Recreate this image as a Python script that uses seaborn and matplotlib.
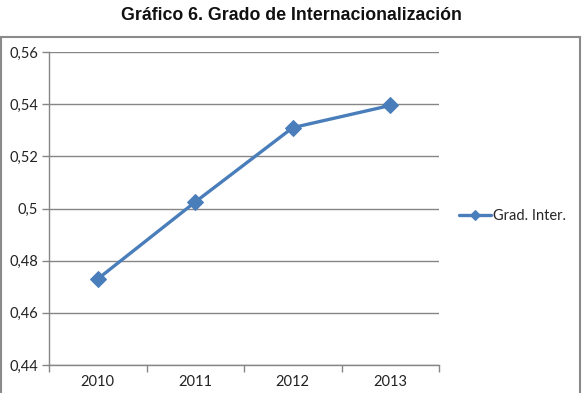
import matplotlib
matplotlib.use("Agg")
import matplotlib.pyplot as plt
import seaborn as sns
import pandas as pd
from matplotlib.patches import Rectangle
from matplotlib.ticker import FixedLocator

years = ["2010", "2011", "2012", "2013"]
values = [0.473, 0.5025, 0.531, 0.5395]
series_name = "Grad. Inter."
yticks = [0.44, 0.46, 0.48, 0.50, 0.52, 0.54, 0.56]
ytick_labels = ["0,44", "0,46", "0,48", "0,5", "0,52", "0,54", "0,56"]
title = "Gráfico 6. Grado de Internacionalización"

df = pd.DataFrame({"Año": years, "Valor": values, "Serie": series_name})

sns.set_theme(style="white")
plt.rcParams["font.family"] = ["Lato", "DejaVu Sans"]

fig = plt.figure(figsize=(5.82, 3.93), dpi=100)
ax = fig.add_axes([49 / 582, 1 - 365 / 393, 390 / 582, 313 / 393])

blue = "#4A7EBB"
sns.lineplot(data=df, x="Año", y="Valor", hue="Serie", palette=[blue],
             marker="D", markersize=8.5, linewidth=2.4, markeredgecolor=blue,
             ax=ax, sort=False)

ax.set_xlim(-0.5, 3.5)
ax.set_ylim(0.44, 0.56)
ax.set_yticks(yticks)
ax.set_yticklabels(ytick_labels)
ax.set_xticks(range(len(years)))
ax.set_xticklabels(years)
ax.xaxis.set_minor_locator(FixedLocator([-0.5, 0.5, 1.5, 2.5, 3.5]))
ax.tick_params(axis="x", which="major", length=0, pad=7, labelsize=10.5, colors="#222222")
ax.tick_params(axis="x", which="minor", length=5, width=1, color="#868686", bottom=True)
ax.tick_params(axis="y", which="major", length=5, width=1, color="#868686", left=True,
               labelsize=10.5, labelcolor="#222222", pad=3)
ax.set_xlabel("")
ax.set_ylabel("")
ax.grid(axis="y", color="#868686", linewidth=1)
ax.grid(axis="x", visible=False)
ax.set_axisbelow(True)
for s in ["top", "right"]:
    ax.spines[s].set_visible(False)
for s in ["left", "bottom"]:
    ax.spines[s].set_color("#868686")
    ax.spines[s].set_linewidth(1)

leg = ax.get_legend()
if leg is not None:
    leg.remove()
handles, labels = ax.get_legend_handles_labels()
for h in handles:
    h.set_markersize(5.5)
fig.legend(handles, labels, loc="center left", bbox_to_anchor=(459 / 582, 1 - 216 / 393),
           frameon=False, fontsize=10.5, handlelength=2.2, handletextpad=0.1, borderpad=0,
           borderaxespad=0)

border = Rectangle((1 / 582, -0.05), 579 / 582, (393 - 37) / 393 + 0.05,
                   transform=fig.transFigure, fill=False, edgecolor="#8a8a8a",
                   linewidth=1.5, clip_on=False)
fig.patches.append(border)

fig.text(0.5, 1 - 15 / 393, title, ha="center", va="center", fontsize=12.8,
         fontweight="bold", family=["Liberation Sans", "DejaVu Sans"], color="#111111")

fig.savefig("out.png", dpi=100)
